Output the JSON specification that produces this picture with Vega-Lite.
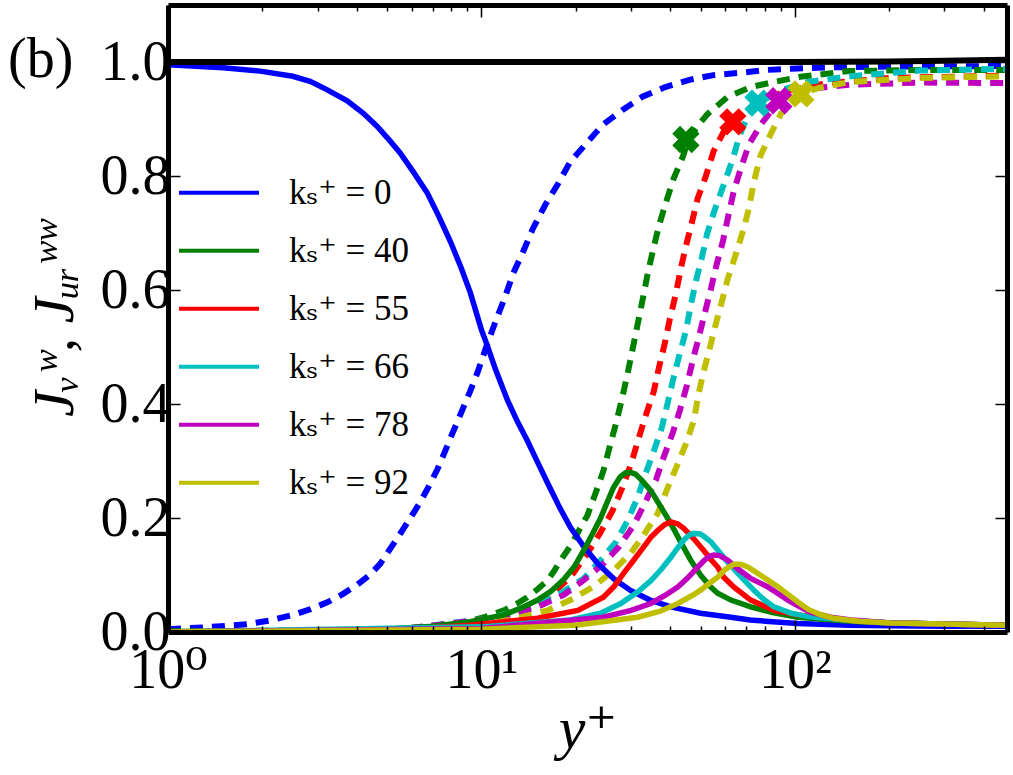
{
  "$schema": "https://vega.github.io/schema/vega-lite/v6.json",
  "width": 839,
  "height": 627,
  "autosize": {"type": "none"},
  "padding": {"left": 168, "top": 5, "right": 6, "bottom": 143},
  "background": "white",
  "title": {"text": "(b)", "anchor": "start", "frame": "group", "dx": -160, "dy": 129, "baseline": "alphabetic", "offset": 0, "fontSize": 56, "font": "Liberation Serif, DejaVu Serif, serif", "fontWeight": "normal", "color": "black"},
  "config": {"view": {"stroke": null}, "axis": {"grid": false}},
  "datasets": {
    "solid": [
      {"k":0,"x":1,"y":0.995},{"k":0,"x":1.5,"y":0.99},{"k":0,"x":1.97,"y":0.984},{"k":0,"x":2.5,"y":0.975},{"k":0,"x":2.84,"y":0.966},{"k":0,"x":3.2,"y":0.952},{"k":0,"x":3.73,"y":0.932},{"k":0,"x":4.2,"y":0.91},{"k":0,"x":4.65,"y":0.887},{"k":0,"x":5.1,"y":0.862},{"k":0,"x":5.51,"y":0.84},{"k":0,"x":6.1,"y":0.805},{"k":0,"x":6.72,"y":0.77},{"k":0,"x":7.3,"y":0.73},{"k":0,"x":7.96,"y":0.685},{"k":0,"x":8.6,"y":0.64},{"k":0,"x":9.22,"y":0.595},{"k":0,"x":10,"y":0.53},{"k":0,"x":10.4,"y":0.505},{"k":0,"x":11.1,"y":0.46},{"k":0,"x":12.1,"y":0.407},{"k":0,"x":13,"y":0.37},{"k":0,"x":14,"y":0.336},{"k":0,"x":15.1,"y":0.298},{"k":0,"x":16.3,"y":0.26},{"k":0,"x":17.7,"y":0.22},{"k":0,"x":19.2,"y":0.184},{"k":0,"x":21.2,"y":0.15},{"k":0,"x":23.5,"y":0.12},{"k":0,"x":26.5,"y":0.093},{"k":0,"x":29.9,"y":0.073},{"k":0,"x":34.5,"y":0.056},{"k":0,"x":40.2,"y":0.044},{"k":0,"x":50,"y":0.033},{"k":0,"x":62.5,"y":0.026},{"k":0,"x":72,"y":0.021},{"k":0,"x":102,"y":0.015},{"k":0,"x":150,"y":0.012},{"k":0,"x":203,"y":0.011},{"k":0,"x":300,"y":0.01},{"k":0,"x":475,"y":0.01},
      {"k":40,"x":1,"y":0.001},{"k":40,"x":3,"y":0.002},{"k":40,"x":5,"y":0.005},{"k":40,"x":7,"y":0.01},{"k":40,"x":9.2,"y":0.018},{"k":40,"x":11.8,"y":0.03},{"k":40,"x":13.5,"y":0.043},{"k":40,"x":15.1,"y":0.056},{"k":40,"x":16.7,"y":0.072},{"k":40,"x":18.3,"y":0.092},{"k":40,"x":19.8,"y":0.115},{"k":40,"x":21.2,"y":0.143},{"k":40,"x":22.6,"y":0.172},{"k":40,"x":24,"y":0.2},{"k":40,"x":25.2,"y":0.228},{"k":40,"x":26.4,"y":0.254},{"k":40,"x":27.7,"y":0.272},{"k":40,"x":28.8,"y":0.279},{"k":40,"x":29.9,"y":0.28},{"k":40,"x":31,"y":0.277},{"k":40,"x":32.5,"y":0.266},{"k":40,"x":34.7,"y":0.248},{"k":40,"x":37.3,"y":0.22},{"k":40,"x":40.2,"y":0.19},{"k":40,"x":43.3,"y":0.157},{"k":40,"x":46.5,"y":0.126},{"k":40,"x":50,"y":0.1},{"k":40,"x":53.9,"y":0.079},{"k":40,"x":56.7,"y":0.068},{"k":40,"x":62.5,"y":0.056},{"k":40,"x":72.3,"y":0.044},{"k":40,"x":85,"y":0.034},{"k":40,"x":102,"y":0.026},{"k":40,"x":150,"y":0.019},{"k":40,"x":203,"y":0.016},{"k":40,"x":300,"y":0.014},{"k":40,"x":475,"y":0.012},
      {"k":55,"x":1,"y":0},{"k":55,"x":5,"y":0.003},{"k":55,"x":9.2,"y":0.012},{"k":55,"x":15.1,"y":0.024},{"k":55,"x":20.3,"y":0.038},{"k":55,"x":24.5,"y":0.061},{"k":55,"x":26.5,"y":0.08},{"k":55,"x":28.4,"y":0.103},{"k":55,"x":30.5,"y":0.125},{"k":55,"x":32.9,"y":0.149},{"k":55,"x":34.7,"y":0.166},{"k":55,"x":36.5,"y":0.178},{"k":55,"x":38.3,"y":0.188},{"k":55,"x":40.2,"y":0.193},{"k":55,"x":42.2,"y":0.19},{"k":55,"x":44.2,"y":0.182},{"k":55,"x":47.5,"y":0.164},{"k":55,"x":51.2,"y":0.143},{"k":55,"x":54,"y":0.127},{"k":55,"x":56.7,"y":0.114},{"k":55,"x":59.3,"y":0.096},{"k":55,"x":63.8,"y":0.079},{"k":55,"x":72.3,"y":0.056},{"k":55,"x":85.7,"y":0.038},{"k":55,"x":102,"y":0.03},{"k":55,"x":150,"y":0.02},{"k":55,"x":203,"y":0.016},{"k":55,"x":475,"y":0.012},
      {"k":66,"x":1,"y":0},{"k":66,"x":10,"y":0.009},{"k":66,"x":19.2,"y":0.021},{"k":66,"x":24,"y":0.033},{"k":66,"x":27.8,"y":0.05},{"k":66,"x":31.5,"y":0.07},{"k":66,"x":34.7,"y":0.09},{"k":66,"x":37.5,"y":0.11},{"k":66,"x":40.2,"y":0.131},{"k":66,"x":42.2,"y":0.147},{"k":66,"x":44.2,"y":0.161},{"k":66,"x":46,"y":0.17},{"k":66,"x":47.6,"y":0.173},{"k":66,"x":49.9,"y":0.172},{"k":66,"x":51.2,"y":0.168},{"k":66,"x":54,"y":0.158},{"k":66,"x":56.7,"y":0.144},{"k":66,"x":61,"y":0.123},{"k":66,"x":65.8,"y":0.103},{"k":66,"x":70,"y":0.087},{"k":66,"x":74,"y":0.073},{"k":66,"x":80,"y":0.056},{"k":66,"x":85.7,"y":0.044},{"k":66,"x":97,"y":0.033},{"k":66,"x":110,"y":0.027},{"k":66,"x":150,"y":0.02},{"k":66,"x":203,"y":0.016},{"k":66,"x":475,"y":0.012},
      {"k":78,"x":1,"y":0},{"k":78,"x":10,"y":0.006},{"k":78,"x":24.5,"y":0.026},{"k":78,"x":30,"y":0.038},{"k":78,"x":34.7,"y":0.05},{"k":78,"x":38.5,"y":0.064},{"k":78,"x":42.3,"y":0.079},{"k":78,"x":45.7,"y":0.096},{"k":78,"x":49,"y":0.114},{"k":78,"x":51.5,"y":0.126},{"k":78,"x":53.5,"y":0.133},{"k":78,"x":55.1,"y":0.135},{"k":78,"x":57.5,"y":0.134},{"k":78,"x":61.1,"y":0.126},{"k":78,"x":66,"y":0.11},{"k":78,"x":72.3,"y":0.094},{"k":78,"x":82,"y":0.079},{"k":78,"x":88,"y":0.068},{"k":78,"x":95,"y":0.056},{"k":78,"x":103,"y":0.045},{"k":78,"x":112,"y":0.035},{"k":78,"x":130,"y":0.026},{"k":78,"x":151,"y":0.021},{"k":78,"x":203,"y":0.016},{"k":78,"x":475,"y":0.012},
      {"k":92,"x":1,"y":0},{"k":92,"x":10,"y":0.005},{"k":92,"x":20,"y":0.012},{"k":92,"x":31.5,"y":0.026},{"k":92,"x":37,"y":0.036},{"k":92,"x":42.3,"y":0.05},{"k":92,"x":47,"y":0.064},{"k":92,"x":49.9,"y":0.073},{"k":92,"x":53.5,"y":0.086},{"k":92,"x":56.7,"y":0.096},{"k":92,"x":60,"y":0.11},{"k":92,"x":63.8,"y":0.119},{"k":92,"x":67,"y":0.119},{"k":92,"x":70.8,"y":0.114},{"k":92,"x":76,"y":0.103},{"k":92,"x":82,"y":0.091},{"k":92,"x":88,"y":0.08},{"k":92,"x":95,"y":0.066},{"k":92,"x":102,"y":0.053},{"k":92,"x":110,"y":0.04},{"k":92,"x":120,"y":0.031},{"k":92,"x":133,"y":0.024},{"k":92,"x":160,"y":0.019},{"k":92,"x":203,"y":0.016},{"k":92,"x":475,"y":0.012}
    ],
    "dashed": [
      {"k":0,"x":1,"y":0.005},{"k":0,"x":1.3,"y":0.008},{"k":0,"x":1.74,"y":0.013},{"k":0,"x":2.1,"y":0.02},{"k":0,"x":2.51,"y":0.03},{"k":0,"x":2.85,"y":0.04},{"k":0,"x":3.22,"y":0.052},{"k":0,"x":3.6,"y":0.066},{"k":0,"x":4.02,"y":0.083},{"k":0,"x":4.4,"y":0.1},{"k":0,"x":4.76,"y":0.12},{"k":0,"x":5.1,"y":0.145},{"k":0,"x":5.5,"y":0.172},{"k":0,"x":5.9,"y":0.198},{"k":0,"x":6.38,"y":0.228},{"k":0,"x":6.8,"y":0.256},{"k":0,"x":7.23,"y":0.285},{"k":0,"x":7.6,"y":0.313},{"k":0,"x":7.96,"y":0.34},{"k":0,"x":8.35,"y":0.367},{"k":0,"x":8.76,"y":0.394},{"k":0,"x":9.2,"y":0.422},{"k":0,"x":9.71,"y":0.455},{"k":0,"x":10.4,"y":0.503},{"k":0,"x":11.2,"y":0.551},{"k":0,"x":11.9,"y":0.588},{"k":0,"x":12.6,"y":0.628},{"k":0,"x":13.6,"y":0.668},{"k":0,"x":14.6,"y":0.708},{"k":0,"x":16,"y":0.75},{"k":0,"x":17.5,"y":0.785},{"k":0,"x":19.2,"y":0.825},{"k":0,"x":21.6,"y":0.857},{"k":0,"x":24.4,"y":0.89},{"k":0,"x":28.2,"y":0.916},{"k":0,"x":32.6,"y":0.939},{"k":0,"x":38.6,"y":0.956},{"k":0,"x":46.4,"y":0.969},{"k":0,"x":55,"y":0.977},{"k":0,"x":67,"y":0.981},{"k":0,"x":80.7,"y":0.986},{"k":0,"x":97,"y":0.988},{"k":0,"x":118,"y":0.99},{"k":0,"x":142,"y":0.991},{"k":0,"x":200,"y":0.992},{"k":0,"x":475,"y":0.993},
      {"k":40,"x":1,"y":0.001},{"k":40,"x":5,"y":0.004},{"k":40,"x":7.5,"y":0.01},{"k":40,"x":9.2,"y":0.019},{"k":40,"x":10.5,"y":0.028},{"k":40,"x":11.8,"y":0.038},{"k":40,"x":13,"y":0.05},{"k":40,"x":14,"y":0.061},{"k":40,"x":15.1,"y":0.075},{"k":40,"x":16.3,"y":0.091},{"k":40,"x":17.1,"y":0.108},{"k":40,"x":17.9,"y":0.126},{"k":40,"x":18.8,"y":0.143},{"k":40,"x":19.7,"y":0.161},{"k":40,"x":20.7,"y":0.183},{"k":40,"x":21.8,"y":0.205},{"k":40,"x":23.1,"y":0.243},{"k":40,"x":24.5,"y":0.283},{"k":40,"x":25.8,"y":0.33},{"k":40,"x":27,"y":0.37},{"k":40,"x":28.2,"y":0.414},{"k":40,"x":29.3,"y":0.455},{"k":40,"x":30.4,"y":0.498},{"k":40,"x":31.5,"y":0.54},{"k":40,"x":32.7,"y":0.584},{"k":40,"x":33.9,"y":0.628},{"k":40,"x":35.2,"y":0.668},{"k":40,"x":36.8,"y":0.712},{"k":40,"x":38.7,"y":0.752},{"k":40,"x":41,"y":0.795},{"k":40,"x":43.9,"y":0.834},{"k":40,"x":45.7,"y":0.864},{"k":40,"x":49,"y":0.888},{"k":40,"x":52.7,"y":0.909},{"k":40,"x":61.1,"y":0.939},{"k":40,"x":72.3,"y":0.956},{"k":40,"x":85.7,"y":0.965},{"k":40,"x":104,"y":0.974},{"k":40,"x":148,"y":0.984},{"k":40,"x":250,"y":0.986},{"k":40,"x":475,"y":0.986},
      {"k":55,"x":1,"y":0},{"k":55,"x":5,"y":0.003},{"k":55,"x":10.4,"y":0.021},{"k":55,"x":13.3,"y":0.038},{"k":55,"x":16.3,"y":0.061},{"k":55,"x":19.2,"y":0.096},{"k":55,"x":21.8,"y":0.138},{"k":55,"x":24,"y":0.175},{"k":55,"x":26.2,"y":0.213},{"k":55,"x":28.2,"y":0.254},{"k":55,"x":30.1,"y":0.297},{"k":55,"x":31.7,"y":0.339},{"k":55,"x":33.4,"y":0.379},{"k":55,"x":35.5,"y":0.423},{"k":55,"x":36.8,"y":0.463},{"k":55,"x":38.4,"y":0.505},{"k":55,"x":39.9,"y":0.549},{"k":55,"x":41.7,"y":0.593},{"k":55,"x":43.2,"y":0.636},{"k":55,"x":44.9,"y":0.677},{"k":55,"x":47,"y":0.72},{"k":55,"x":48.9,"y":0.76},{"k":55,"x":52,"y":0.8},{"k":55,"x":55,"y":0.843},{"k":55,"x":59.3,"y":0.878},{"k":55,"x":63.4,"y":0.895},{"k":55,"x":70,"y":0.915},{"k":55,"x":80,"y":0.935},{"k":55,"x":95,"y":0.95},{"k":55,"x":124,"y":0.962},{"k":55,"x":200,"y":0.972},{"k":55,"x":475,"y":0.976},
      {"k":66,"x":1,"y":0},{"k":66,"x":5,"y":0.002},{"k":66,"x":10.7,"y":0.024},{"k":66,"x":14.3,"y":0.044},{"k":66,"x":17.9,"y":0.068},{"k":66,"x":21.2,"y":0.094},{"k":66,"x":24,"y":0.126},{"k":66,"x":26.8,"y":0.157},{"k":66,"x":29.3,"y":0.196},{"k":66,"x":31.5,"y":0.236},{"k":66,"x":33.4,"y":0.278},{"k":66,"x":35.5,"y":0.318},{"k":66,"x":37.6,"y":0.358},{"k":66,"x":39.4,"y":0.405},{"k":66,"x":41,"y":0.446},{"k":66,"x":42.9,"y":0.488},{"k":66,"x":44.9,"y":0.528},{"k":66,"x":46.5,"y":0.572},{"k":66,"x":48.3,"y":0.615},{"k":66,"x":50.5,"y":0.657},{"k":66,"x":52.5,"y":0.699},{"k":66,"x":55.5,"y":0.741},{"k":66,"x":59.3,"y":0.785},{"k":66,"x":63.4,"y":0.83},{"k":66,"x":66.5,"y":0.87},{"k":66,"x":70,"y":0.9},{"k":66,"x":76.2,"y":0.928},{"k":66,"x":90,"y":0.95},{"k":66,"x":110,"y":0.965},{"k":66,"x":150,"y":0.975},{"k":66,"x":250,"y":0.985},{"k":66,"x":475,"y":0.988},
      {"k":78,"x":1,"y":0},{"k":78,"x":5,"y":0.002},{"k":78,"x":11.8,"y":0.026},{"k":78,"x":15.1,"y":0.044},{"k":78,"x":18.3,"y":0.065},{"k":78,"x":21.2,"y":0.091},{"k":78,"x":24.5,"y":0.12},{"k":78,"x":27.4,"y":0.149},{"k":78,"x":30.6,"y":0.187},{"k":78,"x":33.2,"y":0.226},{"k":78,"x":36,"y":0.266},{"k":78,"x":38.1,"y":0.306},{"k":78,"x":40.8,"y":0.35},{"k":78,"x":42.9,"y":0.388},{"k":78,"x":45.2,"y":0.432},{"k":78,"x":47.2,"y":0.476},{"k":78,"x":49.3,"y":0.516},{"k":78,"x":51.5,"y":0.558},{"k":78,"x":53.9,"y":0.601},{"k":78,"x":56.3,"y":0.645},{"k":78,"x":58.9,"y":0.685},{"k":78,"x":61.1,"y":0.726},{"k":78,"x":63.8,"y":0.773},{"k":78,"x":67.2,"y":0.813},{"k":78,"x":71.3,"y":0.855},{"k":78,"x":77.8,"y":0.89},{"k":78,"x":88.9,"y":0.932},{"k":78,"x":100,"y":0.945},{"k":78,"x":120,"y":0.955},{"k":78,"x":150,"y":0.96},{"k":78,"x":250,"y":0.964},{"k":78,"x":475,"y":0.963},
      {"k":92,"x":1,"y":0},{"k":92,"x":5,"y":0.002},{"k":92,"x":12.3,"y":0.021},{"k":92,"x":16.3,"y":0.038},{"k":92,"x":19.2,"y":0.056},{"k":92,"x":22.7,"y":0.079},{"k":92,"x":26.4,"y":0.108},{"k":92,"x":29.9,"y":0.138},{"k":92,"x":32.9,"y":0.17},{"k":92,"x":36.5,"y":0.208},{"k":92,"x":39.2,"y":0.252},{"k":92,"x":42.3,"y":0.295},{"k":92,"x":44.9,"y":0.33},{"k":92,"x":47.6,"y":0.371},{"k":92,"x":49.3,"y":0.418},{"k":92,"x":51.2,"y":0.458},{"k":92,"x":53.5,"y":0.498},{"k":92,"x":55.9,"y":0.54},{"k":92,"x":58.5,"y":0.58},{"k":92,"x":61.1,"y":0.62},{"k":92,"x":65,"y":0.665},{"k":92,"x":68.7,"y":0.708},{"k":92,"x":71.3,"y":0.743},{"k":92,"x":74,"y":0.79},{"k":92,"x":77.8,"y":0.837},{"k":92,"x":83.8,"y":0.874},{"k":92,"x":90.2,"y":0.909},{"k":92,"x":104.5,"y":0.944},{"k":92,"x":120,"y":0.955},{"k":92,"x":150,"y":0.965},{"k":92,"x":250,"y":0.972},{"k":92,"x":475,"y":0.975}
    ],
    "ref": [
      {"x":1,"y":1.0},{"x":100,"y":1.0},{"x":200,"y":1.001},{"x":300,"y":1.002},{"x":475,"y":1.004}
    ],
    "marks": [
      {"k":40,"x":44.9,"y":0.864},{"k":55,"x":63.4,"y":0.895},{"k":66,"x":76.2,"y":0.928},{"k":78,"x":88.9,"y":0.932},{"k":92,"x":104.5,"y":0.944}
    ]
  },
  "layer": [
    {
      "data": {"name": "dashed"},
      "mark": {"type": "line", "strokeWidth": 6, "strokeDash": [13, 9], "clip": true},
      "encoding": {
        "x": {"field": "x", "type": "quantitative", "scale": {"type": "log", "domain": [1, 475], "nice": false},
          "axis": {"orient": "bottom", "values": [2,3,4,5,6,7,8,9,20,30,40,50,60,70,80,90,200,300,400], "labels": false, "tickSize": -6, "tickWidth": 1.5, "tickColor": "black", "domain": false, "title": null, "zindex": 1}},
        "y": {"field": "y", "type": "quantitative", "scale": {"domain": [0, 1.1], "nice": false, "zero": false},
          "axis": {"orient": "right", "values": [0,0.2,0.4,0.6,0.8,1.0], "labels": false, "tickSize": -12, "tickWidth": 1.5, "tickColor": "black", "domain": true, "domainWidth": 5, "domainColor": "black", "title": null, "zindex": 1}},
        "color": {"field": "k", "type": "nominal", "scale": {"domain": [0,40,55,66,78,92], "range": ["#0000ff","#008000","#ff0000","#00bfbf","#bf00bf","#bfbf00"]},
          "legend": {"orient": "none", "legendX": 9, "legendY": 159, "title": null, "symbolType": "stroke", "symbolSize": 6400, "symbolStrokeWidth": 4, "symbolDash": [1, 0], "labelFont": "Liberation Serif, DejaVu Serif, serif", "labelFontSize": 35, "labelColor": "black", "labelExpr": "'kₛ⁺ = ' + datum.label", "labelOffset": 28, "rowPadding": 0, "clipHeight": 57.6, "padding": 0, "labelLimit": 300}}
      }
    },
    {
      "data": {"name": "solid"},
      "mark": {"type": "line", "strokeWidth": 5.5, "clip": true},
      "encoding": {
        "x": {"field": "x", "type": "quantitative", "scale": {"type": "log", "domain": [1, 475], "nice": false},
          "axis": {"orient": "bottom", "values": [1,10,100], "labelExpr": "datum.value < 5 ? '10⁰' : datum.value < 50 ? '10¹' : '10²'", "labelFont": "Liberation Serif, DejaVu Serif, serif", "labelFontSize": 56, "labelColor": "black", "labelPadding": 23, "labelFlush": false, "labelOverlap": false, "labelBound": false, "tickSize": -12, "tickWidth": 1.5, "tickColor": "black", "domain": true, "domainWidth": 5, "domainColor": "black", "title": "y⁺", "titleFont": "Liberation Serif, DejaVu Serif, serif", "titleFontSize": 60, "titleFontStyle": "italic", "titleFontWeight": "normal", "titleColor": "black", "titlePadding": 2, "zindex": 1}},
        "y": {"field": "y", "type": "quantitative", "scale": {"domain": [0, 1.1], "nice": false, "zero": false},
          "axis": {"orient": "left", "values": [0,0.2,0.4,0.6,0.8,1.0], "format": ".1f", "labelFont": "Liberation Serif, DejaVu Serif, serif", "labelFontSize": 56, "labelColor": "black", "labelPadding": 10, "labelFlush": false, "labelOverlap": false, "labelBound": false, "tickSize": -12, "tickWidth": 1.5, "tickColor": "black", "domain": true, "domainWidth": 5, "domainColor": "black", "title": "Jᵥʷ, Jᵤᵣʷʷ", "titleFont": "Liberation Serif, DejaVu Serif, serif", "titleFontSize": 58, "titleFontStyle": "italic", "titleFontWeight": "normal", "titleColor": "black", "titlePadding": 16, "zindex": 1}},
        "color": {"field": "k", "type": "nominal", "scale": {"domain": [0,40,55,66,78,92], "range": ["#0000ff","#008000","#ff0000","#00bfbf","#bf00bf","#bfbf00"]},
          "legend": {"orient": "none", "legendX": 9, "legendY": 159, "title": null, "symbolType": "stroke", "symbolSize": 6400, "symbolStrokeWidth": 4, "symbolDash": [1, 0], "labelFont": "Liberation Serif, DejaVu Serif, serif", "labelFontSize": 35, "labelColor": "black", "labelExpr": "'kₛ⁺ = ' + datum.label", "labelOffset": 28, "rowPadding": 0, "clipHeight": 57.6, "padding": 0, "labelLimit": 300}}
      }
    },
    {
      "data": {"name": "ref"},
      "mark": {"type": "line", "strokeWidth": 6, "color": "black", "clip": true},
      "encoding": {
        "x": {"field": "x", "type": "quantitative", "scale": {"type": "log", "domain": [1, 475], "nice": false},
          "axis": {"orient": "top", "values": [1,10,100], "labels": false, "tickSize": -12, "tickWidth": 1.5, "tickColor": "black", "domain": true, "domainWidth": 5, "domainColor": "black", "title": null, "zindex": 1}},
        "y": {"field": "y", "type": "quantitative", "scale": {"domain": [0, 1.1], "nice": false, "zero": false}, "axis": null}
      }
    },
    {
      "data": {"name": "marks"},
      "mark": {"type": "point", "shape": "cross", "angle": 45, "filled": true, "size": 760, "opacity": 1},
      "encoding": {
        "x": {"field": "x", "type": "quantitative", "scale": {"type": "log", "domain": [1, 475], "nice": false},
          "axis": {"orient": "top", "values": [2,3,4,5,6,7,8,9,20,30,40,50,60,70,80,90,200,300,400], "labels": false, "tickSize": -6, "tickWidth": 1.5, "tickColor": "black", "domain": false, "title": null, "zindex": 1}},
        "y": {"field": "y", "type": "quantitative", "scale": {"domain": [0, 1.1], "nice": false, "zero": false}, "axis": null},
        "fill": {"field": "k", "type": "nominal", "scale": {"domain": [0,40,55,66,78,92], "range": ["#0000ff","#008000","#ff0000","#00bfbf","#bf00bf","#bfbf00"]}, "legend": null}
      }
    }
  ],
  "resolve": {"axis": {"x": "independent", "y": "independent"}}
}
